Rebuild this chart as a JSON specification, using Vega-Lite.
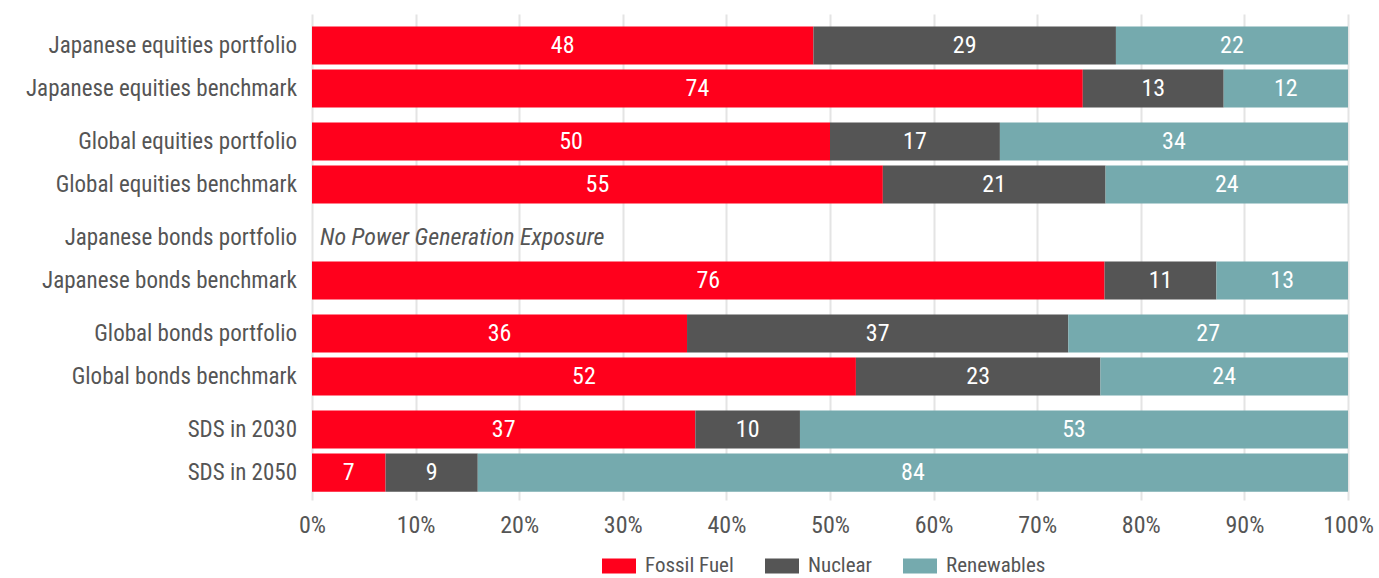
{
  "$schema": "https://vega.github.io/schema/vega-lite/v6.json",
  "width": 1036,
  "height": 486,
  "autosize": {"type": "none"},
  "padding": {"left": 312, "top": 14, "right": 31, "bottom": 78},
  "background": "white",
  "config": {
    "view": {"stroke": null},
    "font": "Liberation Sans Narrow, Roboto Condensed, DejaVu Sans Condensed, Liberation Sans",
    "text": {"font": "Liberation Sans Narrow, Roboto Condensed, DejaVu Sans Condensed, Liberation Sans"}
  },
  "datasets": {
    "shares": [
      {"row": "Japanese equities portfolio", "group": "G1", "sub": "a", "source": "Fossil Fuel", "ord": 1, "value": 48.4, "label": 48},
      {"row": "Japanese equities portfolio", "group": "G1", "sub": "a", "source": "Nuclear", "ord": 2, "value": 29.2, "label": 29},
      {"row": "Japanese equities portfolio", "group": "G1", "sub": "a", "source": "Renewables", "ord": 3, "value": 22.4, "label": 22},
      {"row": "Japanese equities benchmark", "group": "G1", "sub": "b", "source": "Fossil Fuel", "ord": 1, "value": 74.4, "label": 74},
      {"row": "Japanese equities benchmark", "group": "G1", "sub": "b", "source": "Nuclear", "ord": 2, "value": 13.6, "label": 13},
      {"row": "Japanese equities benchmark", "group": "G1", "sub": "b", "source": "Renewables", "ord": 3, "value": 12.0, "label": 12},
      {"row": "Global equities portfolio", "group": "G2", "sub": "a", "source": "Fossil Fuel", "ord": 1, "value": 50.0, "label": 50},
      {"row": "Global equities portfolio", "group": "G2", "sub": "a", "source": "Nuclear", "ord": 2, "value": 16.4, "label": 17},
      {"row": "Global equities portfolio", "group": "G2", "sub": "a", "source": "Renewables", "ord": 3, "value": 33.6, "label": 34},
      {"row": "Global equities benchmark", "group": "G2", "sub": "b", "source": "Fossil Fuel", "ord": 1, "value": 55.1, "label": 55},
      {"row": "Global equities benchmark", "group": "G2", "sub": "b", "source": "Nuclear", "ord": 2, "value": 21.5, "label": 21},
      {"row": "Global equities benchmark", "group": "G2", "sub": "b", "source": "Renewables", "ord": 3, "value": 23.4, "label": 24},
      {"row": "Japanese bonds benchmark", "group": "G3", "sub": "b", "source": "Fossil Fuel", "ord": 1, "value": 76.5, "label": 76},
      {"row": "Japanese bonds benchmark", "group": "G3", "sub": "b", "source": "Nuclear", "ord": 2, "value": 10.8, "label": 11},
      {"row": "Japanese bonds benchmark", "group": "G3", "sub": "b", "source": "Renewables", "ord": 3, "value": 12.7, "label": 13},
      {"row": "Global bonds portfolio", "group": "G4", "sub": "a", "source": "Fossil Fuel", "ord": 1, "value": 36.2, "label": 36},
      {"row": "Global bonds portfolio", "group": "G4", "sub": "a", "source": "Nuclear", "ord": 2, "value": 36.8, "label": 37},
      {"row": "Global bonds portfolio", "group": "G4", "sub": "a", "source": "Renewables", "ord": 3, "value": 27.0, "label": 27},
      {"row": "Global bonds benchmark", "group": "G4", "sub": "b", "source": "Fossil Fuel", "ord": 1, "value": 52.5, "label": 52},
      {"row": "Global bonds benchmark", "group": "G4", "sub": "b", "source": "Nuclear", "ord": 2, "value": 23.6, "label": 23},
      {"row": "Global bonds benchmark", "group": "G4", "sub": "b", "source": "Renewables", "ord": 3, "value": 23.9, "label": 24},
      {"row": "SDS in 2030", "group": "G5", "sub": "a", "source": "Fossil Fuel", "ord": 1, "value": 37.0, "label": 37},
      {"row": "SDS in 2030", "group": "G5", "sub": "a", "source": "Nuclear", "ord": 2, "value": 10.1, "label": 10},
      {"row": "SDS in 2030", "group": "G5", "sub": "a", "source": "Renewables", "ord": 3, "value": 52.9, "label": 53},
      {"row": "SDS in 2050", "group": "G5", "sub": "b", "source": "Fossil Fuel", "ord": 1, "value": 7.1, "label": 7},
      {"row": "SDS in 2050", "group": "G5", "sub": "b", "source": "Nuclear", "ord": 2, "value": 8.9, "label": 9},
      {"row": "SDS in 2050", "group": "G5", "sub": "b", "source": "Renewables", "ord": 3, "value": 84.0, "label": 84}
    ],
    "rows": [
      {"row": "Japanese equities portfolio", "group": "G1", "sub": "a"},
      {"row": "Japanese equities benchmark", "group": "G1", "sub": "b"},
      {"row": "Global equities portfolio", "group": "G2", "sub": "a"},
      {"row": "Global equities benchmark", "group": "G2", "sub": "b"},
      {"row": "Japanese bonds portfolio", "group": "G3", "sub": "a", "note": "No Power Generation Exposure"},
      {"row": "Japanese bonds benchmark", "group": "G3", "sub": "b"},
      {"row": "Global bonds portfolio", "group": "G4", "sub": "a"},
      {"row": "Global bonds benchmark", "group": "G4", "sub": "b"},
      {"row": "SDS in 2030", "group": "G5", "sub": "a"},
      {"row": "SDS in 2050", "group": "G5", "sub": "b"}
    ]
  },
  "encoding": {
    "y": {
      "field": "group", "type": "nominal", "axis": null,
      "scale": {"domain": ["G1", "G2", "G3", "G4", "G5"], "paddingInner": 0.156, "paddingOuter": 0.109, "align": 0.6}
    },
    "yOffset": {
      "field": "sub", "type": "nominal",
      "scale": {"domain": ["a", "b"], "paddingInner": 0.116, "paddingOuter": 0}
    }
  },
  "layer": [
    {
      "data": {"name": "shares"},
      "transform": [
        {"stack": "value", "groupby": ["row"], "sort": [{"field": "ord", "order": "ascending"}], "as": ["x0", "x1"], "offset": "zero"}
      ],
      "mark": {"type": "bar"},
      "encoding": {
        "x": {
          "field": "x0", "type": "quantitative",
          "scale": {"domain": [0, 100], "nice": false},
          "axis": {
            "values": [0, 10, 20, 30, 40, 50, 60, 70, 80, 90, 100],
            "labelExpr": "datum.value + '%'",
            "title": null,
            "domain": false,
            "ticks": false,
            "grid": true,
            "gridColor": "#e4e4e4",
            "gridWidth": 2,
            "labelFontSize": 24,
            "labelColor": "#555555",
            "labelPadding": 13,
            "labelFlush": false
          }
        },
        "x2": {"field": "x1"},
        "color": {
          "field": "source", "type": "nominal",
          "scale": {"domain": ["Fossil Fuel", "Nuclear", "Renewables"], "range": ["#ff001c", "#555555", "#75aaae"]},
          "legend": {
            "orient": "none",
            "legendX": 290,
            "legendY": 535,
            "direction": "horizontal",
            "title": null,
            "symbolType": "M-1,-0.44H1V0.44H-1Z",
            "symbolSize": 1156,
            "symbolStrokeWidth": 0,
            "symbolOpacity": 1,
            "labelFontSize": 21,
            "labelColor": "#555555",
            "labelOffset": 9,
            "columnPadding": 31
          }
        }
      }
    },
    {
      "data": {"name": "shares"},
      "transform": [
        {"stack": "value", "groupby": ["row"], "sort": [{"field": "ord", "order": "ascending"}], "as": ["x0", "x1"], "offset": "zero"},
        {"fold": ["x0", "x1"], "as": ["edge_name", "edge"]}
      ],
      "mark": {"type": "text", "color": "white", "fontSize": 24, "align": "center", "baseline": "middle"},
      "encoding": {
        "x": {"field": "edge", "aggregate": "mean", "type": "quantitative"},
        "detail": {"field": "source", "type": "nominal"},
        "text": {"field": "label", "type": "nominal"}
      }
    },
    {
      "data": {"name": "rows"},
      "mark": {"type": "text", "color": "#555555", "fontSize": 23, "align": "right", "baseline": "middle", "dx": -15},
      "encoding": {
        "x": {"datum": 0, "type": "quantitative"},
        "text": {"field": "row", "type": "nominal"}
      }
    },
    {
      "data": {"name": "rows"},
      "transform": [{"filter": "datum.note != null"}],
      "mark": {"type": "text", "color": "#555555", "fontSize": 24, "fontStyle": "italic", "align": "left", "baseline": "middle", "dx": 8},
      "encoding": {
        "x": {"datum": 0, "type": "quantitative"},
        "text": {"field": "note", "type": "nominal"}
      }
    }
  ]
}
